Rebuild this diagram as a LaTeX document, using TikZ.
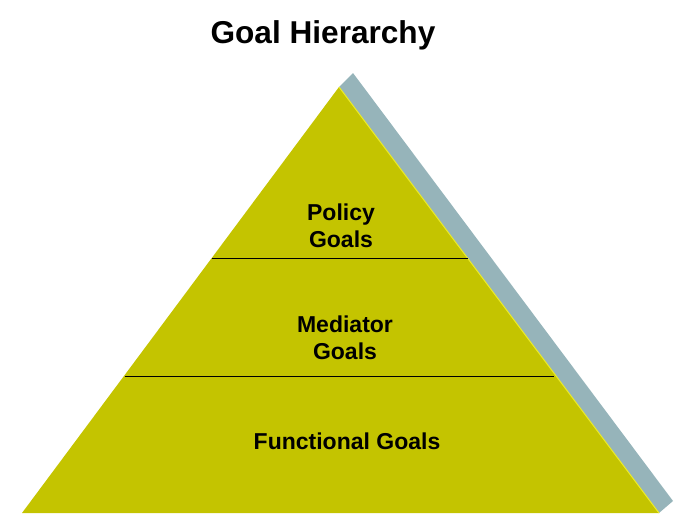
\documentclass[tikz,border=0pt]{standalone}
\usepackage{fontspec}
\setmainfont{Liberation Sans}
\definecolor{pyr}{RGB}{196,196,0}
\definecolor{side}{RGB}{150,180,186}
\definecolor{hl}{RGB}{235,235,40}
\tikzset{
  lbl/.style={font=\fontsize{23}{27.5}\selectfont\bfseries, align=center, inner sep=0pt},
  divider/.style={draw=black, line width=1pt},
}
\begin{document}
\begin{tikzpicture}[x=1pt,y=-1pt]
\useasboundingbox (0,0) rectangle (687,523);
\coordinate (apex) at (339,87);
\coordinate (bl) at (22,513);
\coordinate (br) at (659,513);
\coordinate (sapex) at (353,73);
\coordinate (sbr) at (673,501);
% side face
\fill[side] (apex) -- (sapex) -- (sbr) -- (br) -- cycle;
% front face
\fill[pyr] (apex) -- (br) -- (bl) -- cycle;
\draw[hl, line width=1pt] (apex) -- (br);
% dividers
\coordinate (d1l) at (212,258);
\coordinate (d1r) at (468,258);
\coordinate (d2l) at (125,376);
\coordinate (d2r) at (554,376);
\draw[divider] (d1l) -- (d1r);
\draw[divider] (d2l) -- (d2r);
% title
\node[font=\fontsize{31.6}{36}\selectfont\bfseries, inner sep=0pt] (title) at (323,35) {Goal Hierarchy};
% labels
\node[lbl] (policy) at (341,226) {Policy\\Goals};
\node[lbl] (mediator) at (345,338) {Mediator\\ Goals};
\node[lbl] (functional) at (347,441) {Functional Goals};
\end{tikzpicture}
\end{document}
